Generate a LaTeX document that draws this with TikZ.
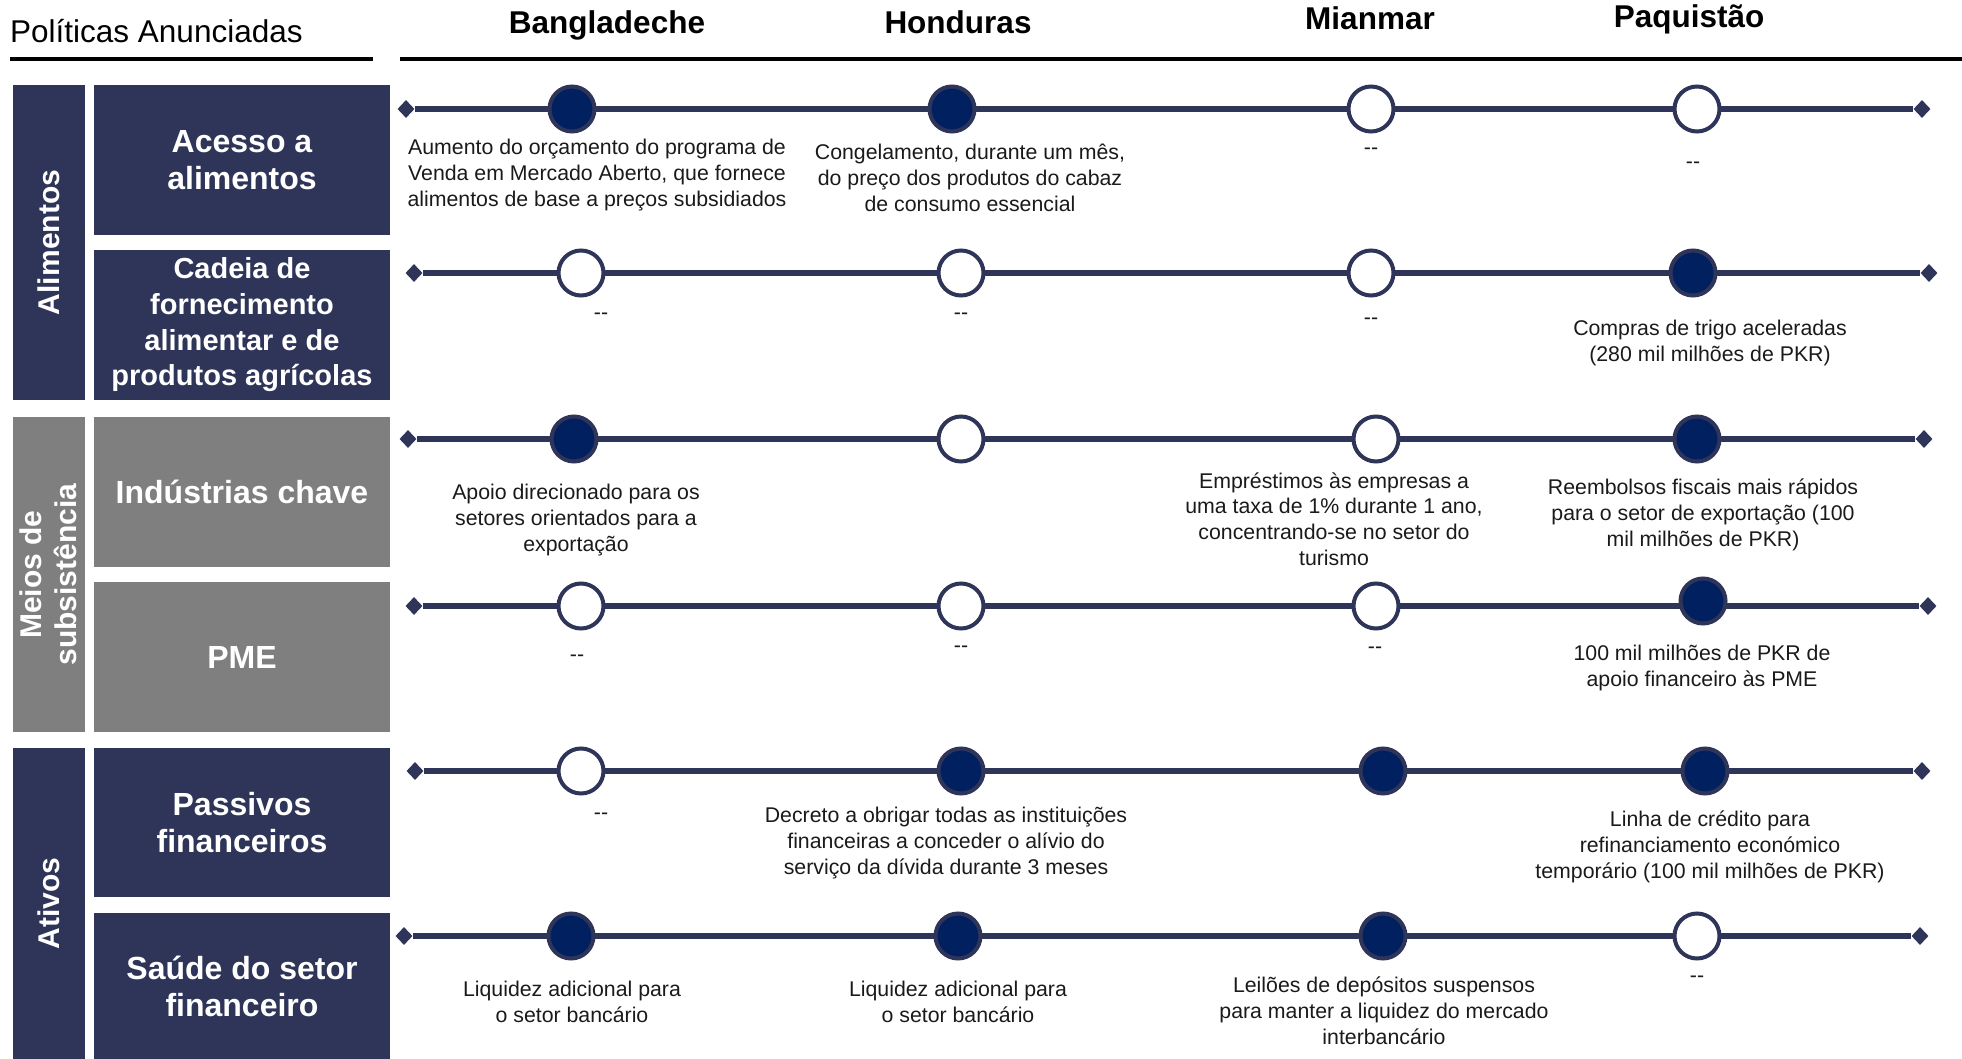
\documentclass[tikz,border=0pt]{standalone}
\usepackage{fontspec}
\setmainfont{Liberation Sans}
\usetikzlibrary{shapes.geometric}

\definecolor{navy}{HTML}{2F3559}
\definecolor{dotfill}{HTML}{002060}
\definecolor{greybox}{HTML}{7F7F7F}
\definecolor{ink}{HTML}{1A1A1A}

\newcommand\twodash{\mbox{-}\mbox{-}}

\tikzset{
  catbox/.style={rotate=90, text=white, inner sep=0, align=center,
    font=\bfseries\fontsize{30}{35}\selectfont},
  subbox/.style={text=white, inner sep=0, align=center, minimum width=296,
    font=\bfseries\fontsize{32}{37}\selectfont},
  colhead/.style={inner sep=0, text=black, font=\bfseries\fontsize{31.5}{36}\selectfont},
  rule/.style={line width=4pt, black},
  endtip/.style={diamond, fill=navy, inner sep=0, minimum width=17, minimum height=18},
  track/.style={navy, line width=6.5pt},
  on/.style={circle, draw=navy, fill=dotfill, line width=4pt, minimum size=45, inner sep=0},
  off/.style={circle, draw=navy, fill=white, line width=4pt, minimum size=45, inner sep=0},
  desc/.style={inner sep=0, align=center, text=ink, font=\fontsize{21.3}{25.8}\selectfont},
}

\begin{document}
\begin{tikzpicture}[x=1pt, y=-1pt]
\useasboundingbox (0,0) rectangle (1962,1059);

% ---- header ----
\node[anchor=west, inner sep=0, font=\fontsize{31.5}{36}\selectfont] (title) at (10,31) {Políticas Anunciadas};
\coordinate (ruleA) at (10,59);
\coordinate (ruleB) at (373,59);
\coordinate (ruleC) at (400,59);
\coordinate (ruleD) at (1962,59);
\draw[rule] (ruleA) -- (ruleB);
\draw[rule] (ruleC) -- (ruleD);

\node[colhead] (hB) at (607,25) {Bangladeche};
\node[colhead] (hH) at (958,22) {Honduras};
\node[colhead] (hM) at (1370,18) {Mianmar};
\node[colhead] (hP) at (1689,19) {Paquistão};

% ---- category columns ----
\node[catbox, fill=navy, minimum width=315, minimum height=72.5] (catA) at (48.75,242.5) {Alimentos};
\node[catbox, fill=greybox, minimum width=315, minimum height=72.5] (catL) at (48.75,574.5) {Meios de\\subsistência};
\node[catbox, fill=navy, minimum width=311, minimum height=72.5] (catF) at (48.75,903.5) {Ativos};

% ---- policy boxes ----
\node[subbox, fill=navy, minimum height=150] (s1) at (242,160) {Acesso a\\alimentos};
\node[subbox, fill=navy, minimum height=150, font=\bfseries\fontsize{29}{35.7}\selectfont] (s2) at (242,325) {Cadeia de\\fornecimento\\alimentar e de\\produtos agrícolas};
\node[subbox, fill=greybox, minimum height=150] (s3) at (242,492) {Indústrias chave};
\node[subbox, fill=greybox, minimum height=150] (s4) at (242,657) {PME};
\node[subbox, fill=navy, minimum height=149] (s5) at (242,822.5) {Passivos\\financeiros};
\node[subbox, fill=navy, minimum height=146] (s6) at (242,986) {Saúde do setor\\financeiro};

% ---- timelines: end tips, track, then markers on top ----
\node[endtip] (l1) at (406,109) {};  \node[endtip] (r1) at (1922,109) {};
\node[endtip] (l2) at (414,273) {};  \node[endtip] (r2) at (1929,273) {};
\node[endtip] (l3) at (408,439) {};  \node[endtip] (r3) at (1924,439) {};
\node[endtip] (l4) at (414,606) {};  \node[endtip] (r4) at (1928,606) {};
\node[endtip] (l5) at (415,771) {};  \node[endtip] (r5) at (1922,771) {};
\node[endtip] (l6) at (404,936) {};  \node[endtip] (r6) at (1920,936) {};
\foreach \i in {1,...,6} { \draw[track] (l\i) -- (r\i); }

% row 1
\node[on]  (m1b) at (572,109) {};
\node[on]  (m1h) at (952,109) {};
\node[off] (m1m) at (1371,109) {};
\node[off] (m1p) at (1697,109) {};
% row 2
\node[off] (m2b) at (581,273) {};
\node[off] (m2h) at (961,273) {};
\node[off] (m2m) at (1371,273) {};
\node[on]  (m2p) at (1693,273) {};
% row 3
\node[on]  (m3b) at (574,439) {};
\node[off] (m3h) at (961,439) {};
\node[off] (m3m) at (1376,439) {};
\node[on]  (m3p) at (1697,439) {};
% row 4
\node[off] (m4b) at (581,606) {};
\node[off] (m4h) at (961,606) {};
\node[off] (m4m) at (1376,606) {};
\node[on]  (m4p) at (1703,601) {};
% row 5
\node[off] (m5b) at (581,771) {};
\node[on]  (m5h) at (961,771) {};
\node[on]  (m5m) at (1383,771) {};
\node[on]  (m5p) at (1705,771) {};
% row 6
\node[on]  (m6b) at (571,936) {};
\node[on]  (m6h) at (958,936) {};
\node[on]  (m6m) at (1383,936) {};
\node[off] (m6p) at (1697,936) {};

% ---- descriptions ----
\node[desc] (d1b) at (597,175) {Aumento do orçamento do programa de\\Venda em Mercado Aberto, que fornece\\alimentos de base a preços subsidiados};
\node[desc] (d1h) at (970,178) {Congelamento, durante um mês,\\do preço dos produtos do cabaz\\de consumo essencial};
\node[desc] (d1m) at (1371,151) {\twodash};
\node[desc] (d1p) at (1693,165) {\twodash};

\node[desc] (d2b) at (601,316) {\twodash};
\node[desc] (d2h) at (961,316) {\twodash};
\node[desc] (d2m) at (1371,321) {\twodash};
\node[desc] (d2p) at (1710,343) {Compras de trigo aceleradas\\(280 mil milhões de PKR)};

\node[desc] (d3b) at (576,520) {Apoio direcionado para os\\setores orientados para a\\exportação};
\node[desc] (d3m) at (1334,519) {Empréstimos às empresas a\\uma taxa de 1\% durante 1 ano,\\concentrando-se no setor do\\turismo};
\node[desc] (d3p) at (1703,515) {Reembolsos fiscais mais rápidos\\para o setor de exportação (100\\mil milhões de PKR)};

\node[desc] (d4b) at (577,658) {\twodash};
\node[desc] (d4h) at (961,649) {\twodash};
\node[desc] (d4m) at (1375,650) {\twodash};
\node[desc] (d4p) at (1702,668) {100 mil milhões de PKR de\\apoio financeiro às PME};

\node[desc] (d5b) at (601,816) {\twodash};
\node[desc] (d5h) at (946,843) {Decreto a obrigar todas as instituições\\financeiras a conceder o alívio do\\serviço da dívida durante 3 meses};
\node[desc] (d5p) at (1710,847) {Linha de crédito para\\refinanciamento económico\\temporário (100 mil milhões de PKR)};

\node[desc] (d6b) at (572,1002) {Liquidez adicional para\\o setor bancário};
\node[desc] (d6h) at (958,1002) {Liquidez adicional para\\o setor bancário};
\node[desc] (d6m) at (1384,1011) {Leilões de depósitos suspensos\\para manter a liquidez do mercado\\interbancário};
\node[desc] (d6p) at (1697,979) {\twodash};

\end{tikzpicture}
\end{document}
